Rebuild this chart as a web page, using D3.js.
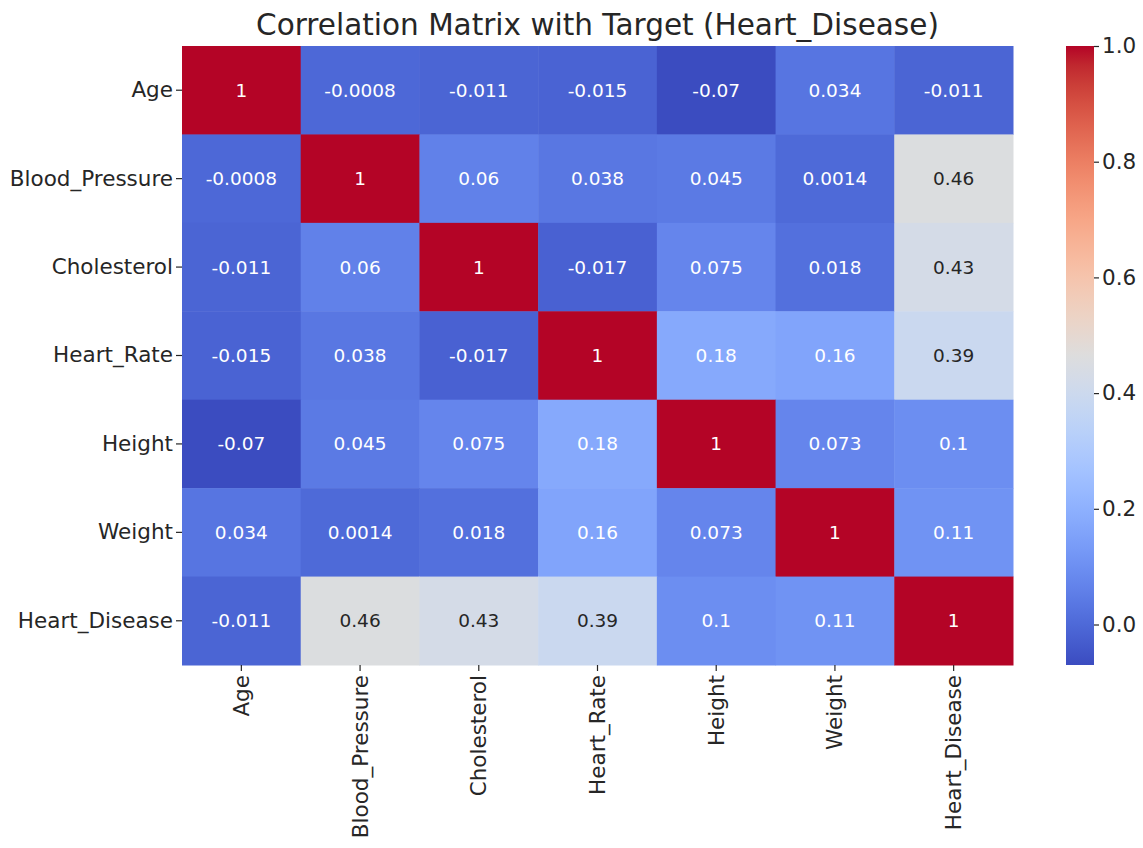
<!DOCTYPE html>
<html>
<head>
<meta charset="utf-8">
<title>Correlation Matrix</title>
<script src="https://d3js.org/d3.v7.min.js"></script>
<style>
body { margin: 0; background: #fff; }
svg { display: block; font-family: "DejaVu Sans", sans-serif; }
.tick text { fill: #262626; }
.tick line { stroke: #262626; stroke-width: 1.2; }
</style>
</head>
<body>
<script>
let features = ['Age', 'Blood_Pressure', 'Cholesterol', 'Heart_Rate', 'Height', 'Weight', 'Heart_Disease'];
let ageRow = [1, -0.0008, -0.011, -0.015, -0.07, 0.034, -0.011];
let bloodPressureRow = [-0.0008, 1, 0.06, 0.038, 0.045, 0.0014, 0.46];
let cholesterolRow = [-0.011, 0.06, 1, -0.017, 0.075, 0.018, 0.43];
let heartRateRow = [-0.015, 0.038, -0.017, 1, 0.18, 0.16, 0.39];
let heightRow = [-0.07, 0.045, 0.075, 0.18, 1, 0.073, 0.1];
let weightRow = [0.034, 0.0014, 0.018, 0.16, 0.073, 1, 0.11];
let heartDiseaseRow = [-0.011, 0.46, 0.43, 0.39, 0.1, 0.11, 1];
let colorbarTicks = [0, 0.2, 0.4, 0.6, 0.8, 1.0];

let rows = [ageRow, bloodPressureRow, cholesterolRow, heartRateRow, heightRow, weightRow, heartDiseaseRow];
let vmin = -0.07, vmax = 1;

let width = 1143, height = 848;
let margin = {top: 46, left: 182, right: 1013, bottom: 665};

// coolwarm (Moreland) stops
let coolwarm = ['#3b4cc0', '#445acc', '#4d68d7', '#5775e1', '#6282ea', '#6c8ef1', '#779af7', '#82a5fb', '#8db0fe', '#98b9ff', '#a3c2ff', '#aec9fd', '#b8d0f9', '#c2d5f4', '#ccd9ee', '#d5dbe6', '#dddddd', '#e5d8d1', '#ecd3c5', '#f1ccb9', '#f5c4ad', '#f7bba0', '#f7b194', '#f7a687', '#f49a7b', '#f18d6f', '#ec7f63', '#e57058', '#de604d', '#d55042', '#cb3e38', '#c0282f', '#b40426'];
let interp = d3.piecewise(d3.interpolateRgb, coolwarm);
let color = function(v) {
    let t = (v - vmin) / (vmax - vmin);
    let idx = Math.max(0, Math.min(255, Math.floor(t * 256)));
    return interp(idx / 255);
};

let textColor = function(c) {
    let rgb = d3.rgb(c);
    let lin = [rgb.r, rgb.g, rgb.b].map((x) => { x /= 255; return x <= 0.03928 ? x / 12.92 : Math.pow((x + 0.055) / 1.055, 2.4); });
    let lum = 0.2126 * lin[0] + 0.7152 * lin[1] + 0.0722 * lin[2];
    return lum > 0.408 ? '#262626' : '#ffffff';
};

let svg = d3.select('body').append('svg').attr('width', width).attr('height', height);

let xScale = d3.scaleBand().domain(features).range([margin.left, margin.right]);
let yScale = d3.scaleBand().domain(features).range([margin.top, margin.bottom]);

let cells = [];
rows.forEach((row, i) => row.forEach((v, j) => cells.push({row: features[i], col: features[j], value: v})));

svg.selectAll('rect.cell').data(cells).enter().append('rect')
    .attr('class', 'cell')
    .attr('x', (d) => xScale(d.col)).attr('y', (d) => yScale(d.row))
    .attr('width', xScale.bandwidth() + 0.5).attr('height', yScale.bandwidth() + 0.5)
    .attr('fill', (d) => color(d.value));

svg.selectAll('text.annot').data(cells).enter().append('text')
    .attr('class', 'annot')
    .attr('x', (d) => xScale(d.col) + xScale.bandwidth() / 2)
    .attr('y', (d) => yScale(d.row) + yScale.bandwidth() / 2)
    .attr('text-anchor', 'middle').attr('dominant-baseline', 'central')
    .style('font-size', '18.5px')
    .attr('fill', (d) => textColor(color(d.value)))
    .text((d) => String(d.value));

let yAxis = svg.append('g').attr('transform', 'translate(' + margin.left + ',0)')
    .call(d3.axisLeft(yScale).tickSize(6).tickPadding(3));
yAxis.attr('font-family', null).attr('font-size', null);
yAxis.select('.domain').remove();
yAxis.selectAll('text').style('font-size', '21.5px');

let xAxis = svg.append('g').attr('transform', 'translate(0,' + margin.bottom + ')')
    .call(d3.axisBottom(xScale).tickSize(6).tickPadding(3));
xAxis.attr('font-family', null).attr('font-size', null);
xAxis.select('.domain').remove();
xAxis.selectAll('text').style('font-size', '21.5px')
    .attr('transform', 'rotate(-90)')
    .attr('text-anchor', 'end').attr('dy', '0.35em')
    .attr('x', -10).attr('y', 0);

svg.append('text').attr('x', (margin.left + margin.right) / 2).attr('y', 35)
    .attr('text-anchor', 'middle').style('font-size', '29.5px').attr('fill', '#262626')
    .text('Correlation Matrix with Target (Heart_Disease)');

// colorbar
let cbX = 1066, cbW = 28;
let cScale = d3.scaleLinear().domain([vmin, vmax]).range([margin.bottom, margin.top]);
let defs = svg.append('defs');
let grad = defs.append('linearGradient').attr('id', 'cbgrad').attr('x1', 0).attr('y1', 1).attr('x2', 0).attr('y2', 0);
d3.range(0, 1.0001, 0.03125).forEach((t) => grad.append('stop').attr('offset', t).attr('stop-color', interp(t)));
svg.append('rect').attr('x', cbX).attr('y', margin.top).attr('width', cbW).attr('height', margin.bottom - margin.top)
    .attr('fill', 'url(#cbgrad)');
let cAxis = svg.append('g').attr('transform', 'translate(' + (cbX + cbW) + ',0)')
    .call(d3.axisRight(cScale).tickValues(colorbarTicks).tickFormat(d3.format('.1f')).tickSize(5).tickPadding(3));
cAxis.attr('font-family', null).attr('font-size', null);
cAxis.select('.domain').remove();
cAxis.selectAll('text').style('font-size', '21.5px');
</script>
</body>
</html>
